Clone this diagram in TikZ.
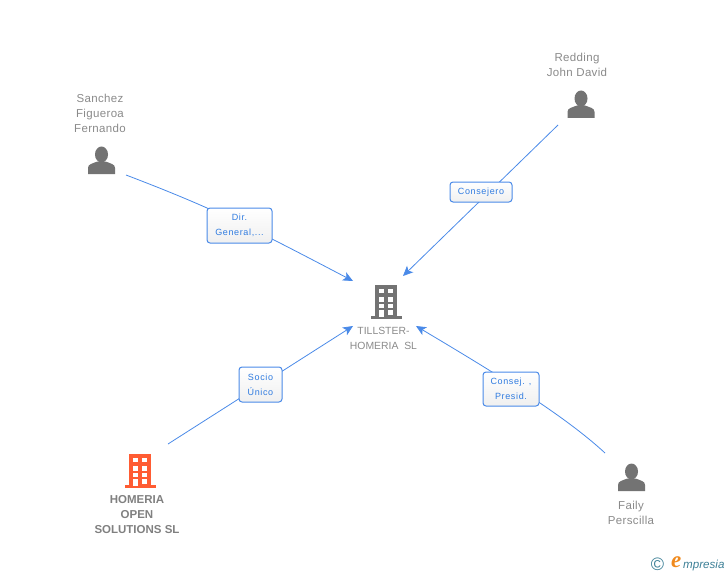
\documentclass[tikz,border=0pt]{standalone}
\usepackage{fontspec}
\setmainfont{Liberation Sans}
\newfontfamily\namefont[LetterSpace=3]{Liberation Sans}
\newfontfamily\lblfont[LetterSpace=7]{Liberation Sans}
\newfontfamily\logofont{Liberation Serif}
\usetikzlibrary{arrows.meta,backgrounds}
\definecolor{linkblue}{HTML}{4A8AE8}
\definecolor{lbltext}{HTML}{2F7BE0}
\definecolor{icongrey}{HTML}{737373}
\definecolor{txtgrey}{HTML}{8A8A8A}
\definecolor{boldgrey}{HTML}{808080}
\definecolor{orangeicon}{HTML}{FF5C33}
\definecolor{logoteal}{HTML}{3C7F96}
\definecolor{logoorange}{HTML}{F08A1E}
\tikzset{
  person/.pic={
    \fill[icongrey] (0,-6.5) ellipse (6.5 and 8);
    \fill[icongrey] (-13.5,13) -- (-13.5,7) .. controls (-13.5,3) and (-9,2.5) .. (-4,0.5)
      -- (4,0.5) .. controls (9,2.5) and (13.5,3) .. (13.5,7) -- (13.5,13) -- cycle;
  },
  building/.pic={
    \fill[#1] (-11,-17) rectangle (11,14);
    \fill[#1] (-15.5,13.5) rectangle (15.5,16.5);
    \foreach \yy in {-13.5,-5,1.5}{
      \fill[white] (-7,\yy) rectangle ++(5,4.5);
      \fill[white] (2.3,\yy) rectangle ++(5,4.5);
    }
    \fill[white] (-7,8) rectangle (-2,15);
    \fill[white] (2.3,8) rectangle (7.3,12.5);
  },
  nametext/.style={font=\namefont\fontsize{11.5}{15}\selectfont,text=txtgrey,align=center,inner sep=0pt},
  plaintext/.style={font=\fontsize{10.4}{15}\selectfont,text=txtgrey,align=center,inner sep=0pt},
  boldtext/.style={font=\fontsize{11.5}{15}\selectfont\bfseries,text=boldgrey,align=center,inner sep=0pt},
  linkbox/.style={draw=linkblue,line width=1pt,rounded corners=3pt,top color=white,bottom color=white!94!black,
     text=lbltext,font=\lblfont\fontsize{9}{15}\selectfont,align=center,inner sep=0pt,minimum height=#1},
  linkbox/.default=35,
  conn/.style={draw=linkblue,line width=0.8pt},
  tip/.style={conn,-{Stealth[length=10pt,width=9pt,inset=2.5pt]}}
}
\begin{document}
\begin{tikzpicture}[x=1pt,y=-1pt]
\useasboundingbox (0,0) rectangle (728,575);
% icons
\pic at (101.5,161) {person};
\pic at (581,105) {person};
\pic at (631.5,478) {person};
\pic at (386,302) {building=icongrey};
\pic at (140,471) {building=orangeicon};
% texts
\node[nametext] (sanchez) at (100,113) {Sanchez\\Figueroa\\Fernando};
\node[nametext] (redding) at (577,64.5) {Redding\\John David};
\node[nametext] (faily) at (631,512.5) {Faily\\Perscilla};
\node[plaintext] (tillster) at (383.5,338.5) {TILLSTER-\\HOMERIA\ \ SL};
\node[boldtext] (homeria) at (137,515) {HOMERIA\\OPEN\\SOLUTIONS SL};
% labels
\node[linkbox,minimum width=65] (l1) at (239.5,225.5) {Dir.\\General,...};
\node[linkbox=20,minimum width=62] (l2) at (481,192) {Consejero};
\node[linkbox,minimum width=43] (l3) at (260.5,384.5) {Socio\\Único};
\node[linkbox=34,minimum width=56] (l4) at (511,389) {Consej. ,\\Presid.};
% free ends
\coordinate (s1) at (126,175);
\coordinate (t1) at (353,281);
\coordinate (s2) at (558,125);
\coordinate (t2) at (403,276);
\coordinate (s3) at (168,444);
\coordinate (t3) at (353,326);
\coordinate (s4) at (605,453);
\coordinate (t4) at (416,326);
\begin{scope}[on background layer]
\draw[tip] (s1) .. controls (215,209) and (250,227) .. (t1);
\draw[tip] (s2) -- (t2);
\draw[tip] (s3) -- (t3);
\draw[tip] (s4) .. controls (565,416) and (500,376) .. (t4);
\end{scope}
% logo
\node[inner sep=0pt,text=logoteal,font=\fontsize{18}{18}\selectfont] (copyr) at (657.5,564) {©};
\node[inner sep=0pt,anchor=west,font=\logofont\itshape\bfseries\fontsize{23}{23}\selectfont,text=logoorange] (logoe) at (671,562) {e};
\node[inner sep=0pt,anchor=west,font=\itshape\fontsize{11.6}{12}\selectfont,text=logoteal] (logow) at (683,565) {mpresia};
\end{tikzpicture}
\end{document}
